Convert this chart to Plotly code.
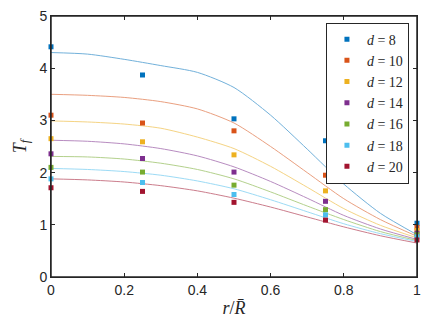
import plotly.graph_objects as go

# measured points (markers)
r_pts = [0, 0.25, 0.5, 0.75, 1.0]
d_labels = ['8', '10', '12', '14', '16', '18', '20']
tf_d8 = [4.41, 3.87, 3.03, 2.61, 1.03]
tf_d10 = [3.10, 2.95, 2.80, 1.95, 0.95]
tf_d12 = [2.65, 2.59, 2.34, 1.65, 0.89]
tf_d14 = [2.36, 2.27, 2.01, 1.45, 0.84]
tf_d16 = [2.10, 2.01, 1.76, 1.29, 0.81]
tf_d18 = [1.88, 1.81, 1.58, 1.19, 0.77]
tf_d20 = [1.71, 1.64, 1.43, 1.09, 0.71]

# model curves
r_fit = [0, 0.1, 0.2, 0.3, 0.4, 0.5, 0.6, 0.7, 0.8, 0.9, 1.0]
fit_d8 = [4.30, 4.27, 4.17, 4.05, 3.92, 3.63, 3.10, 2.45, 1.78, 1.22, 0.81]
fit_d10 = [3.50, 3.48, 3.44, 3.36, 3.22, 2.95, 2.50, 2.00, 1.50, 1.10, 0.78]
fit_d12 = [2.99, 2.97, 2.93, 2.85, 2.68, 2.46, 2.12, 1.72, 1.31, 0.99, 0.75]
fit_d14 = [2.62, 2.60, 2.55, 2.46, 2.32, 2.11, 1.83, 1.51, 1.18, 0.92, 0.72]
fit_d16 = [2.31, 2.30, 2.26, 2.18, 2.06, 1.88, 1.63, 1.36, 1.10, 0.87, 0.70]
fit_d18 = [2.08, 2.06, 2.02, 1.95, 1.84, 1.69, 1.48, 1.25, 1.02, 0.83, 0.68]
fit_d20 = [1.88, 1.86, 1.82, 1.75, 1.65, 1.51, 1.34, 1.15, 0.96, 0.79, 0.65]

colors = ['#0072BD', '#D95319', '#EDB120', '#7E2F8E', '#77AC30', '#4DBEEE', '#A2142F']
pts = [tf_d8, tf_d10, tf_d12, tf_d14, tf_d16, tf_d18, tf_d20]
fits = [fit_d8, fit_d10, fit_d12, fit_d14, fit_d16, fit_d18, fit_d20]

fig = go.Figure()

# curves first so the markers sit on top
for c, f in zip(colors, fits):
    fig.add_trace(go.Scatter(
        x=r_fit, y=f, mode='lines',
        line=dict(color=c, width=1, shape='spline', smoothing=0.7),
        opacity=0.55, showlegend=False, hoverinfo='skip'
    ))

for c, p, d in zip(colors, pts, d_labels):
    fig.add_trace(go.Scatter(
        x=r_pts, y=p, mode='markers',
        marker=dict(symbol='square', size=5, color=c),
        name='<i>d</i> = ' + d, cliponaxis=False
    ))

axis_common = dict(
    showgrid=False, zeroline=False,
    showline=True, linecolor='#262626', linewidth=1, mirror='allticks',
    ticks='inside', ticklen=4, tickcolor='#262626',
    tickfont=dict(family='Liberation Sans, Arial', size=14, color='#262626'),
)

fig.update_layout(
    width=429, height=322,
    margin=dict(l=51, r=8, t=10, b=45),
    paper_bgcolor='white', plot_bgcolor='white',
    xaxis=dict(range=[0, 1], tickvals=[0, 0.2, 0.4, 0.6, 0.8, 1],
               ticktext=['0', '0.2', '0.4', '0.6', '0.8', '1'],
               title=dict(text='<i>r</i>/<i>R\u0304</i>', standoff=4,
                          font=dict(family='Liberation Serif, DejaVu Serif', size=18, color='#262626')),
               **axis_common),
    yaxis=dict(range=[0, 5], tickvals=[0, 1, 2, 3, 4, 5],
               title=dict(text='<i>T<sub>f</sub></i>', standoff=8,
                          font=dict(family='Liberation Serif, DejaVu Serif', size=18, color='#262626')),
               **axis_common),
    legend=dict(
        x=0.978, y=0.975, xanchor='right', yanchor='top',
        bgcolor='white', bordercolor='#262626', borderwidth=1,
        font=dict(family='Liberation Serif, DejaVu Serif', size=14, color='#262626'),
        itemwidth=30, tracegroupgap=0,
    ),
)

# box round the axes (matlab style)
fig.add_shape(type='rect', xref='paper', yref='paper', x0=0, y0=0, x1=1, y1=1,
              line=dict(color='#262626', width=1.5), layer='above')

# drop the default 8px body margin so the figure sits at the page corner
fig.write_html("out.html", config={'displayModeBar': False},
               post_script="document.body.style.margin='0';")
